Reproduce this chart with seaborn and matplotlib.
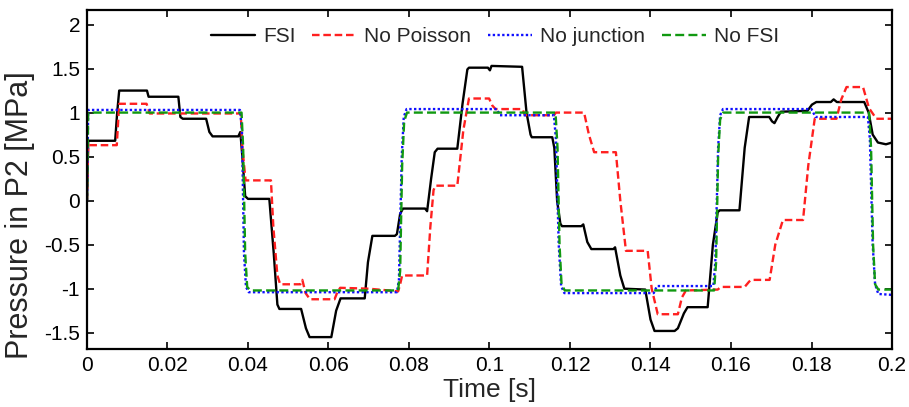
import numpy as np
import pandas as pd
import matplotlib
matplotlib.use("Agg")
import matplotlib.pyplot as plt
import seaborn as sns
from matplotlib.ticker import FuncFormatter

# ---- data (time in ms, pressure in MPa) ----
fsi_t = [0, 0.3, 7.0, 7.5, 8.0, 14.9, 15.3, 22.7, 23.2, 23.8, 29.6, 30.4, 31.2, 37.6, 38.1, 38.6, 39.3, 40.0,
         45.3, 46.4, 47.3, 47.8, 53.2, 54.4, 55.3, 60.7, 61.9, 63.0, 69.0, 69.8, 70.9, 76.5, 77.0, 77.8, 78.5,
         84.0, 84.5, 85.5, 86.4, 87.1, 92.0, 93.3, 94.5, 94.9, 99.6, 100.1, 100.5, 108.1, 109.2, 110.2, 110.5,
         115.6, 116.1, 116.8, 117.6, 118.0, 122.8, 123.3, 124.3, 125.3, 130.8, 131.2, 132.5, 133.5, 138.7, 140.0,
         141.0, 146.0, 146.8, 148.3, 149.2, 154.2, 155.5, 156.7, 157.2, 162.1, 163.4, 164.5, 169.5, 170.2, 170.8,
         171.6, 172.4, 179.0, 180.1, 181.2, 184.8, 185.5, 186.3, 193.1, 194.2, 195.2, 196.5, 198.5, 200]
fsi_p = [0, 0.68, 0.68, 1.0, 1.25, 1.25, 1.18, 1.18, 0.95, 0.93, 0.93, 0.78, 0.73, 0.73, 0.78, 0.5, 0.05, 0.02,
         0.02, -0.6, -1.18, -1.23, -1.23, -1.45, -1.55, -1.55, -1.25, -1.11, -1.11, -0.7, -0.40, -0.40, -0.38, -0.15, -0.09,
         -0.09, -0.12, 0.25, 0.55, 0.59, 0.59, 1.1, 1.49, 1.51, 1.51, 1.48, 1.53, 1.52, 1.0, 0.75, 0.72,
         0.72, 0.6, 0.0, -0.26, -0.29, -0.29, -0.27, -0.47, -0.55, -0.55, -0.53, -0.85, -1.0, -1.01, -1.35,
         -1.48, -1.48, -1.45, -1.28, -1.21, -1.21, -0.5, -0.13, -0.11, -0.11, 0.6, 0.95, 0.95, 0.9, 0.88,
         0.95, 1.01, 1.02, 1.09, 1.12, 1.12, 1.15, 1.12, 1.12, 1.0, 0.75, 0.66, 0.64, 0.66]

nop_t = [0, 0.3, 7.4, 8.0, 14.8, 15.6, 38.2, 38.6, 39.4, 45.7, 46.3, 47.3, 48.0, 53.0, 53.5, 54.3, 55.4, 61.5,
         62.2, 62.9, 70.0, 77.3, 77.8, 78.3, 84.5, 85.3, 86.1, 86.6, 92.0, 93.5, 94.9, 99.9, 100.7, 101.5,
         108.2, 108.8, 116.0, 116.5, 123.5, 124.7, 126.0, 131.4, 132.5, 133.9, 139.3, 140.3, 141.8, 146.8, 147.8,
         148.8, 156.7, 157.5, 163.4, 164.5, 165.0, 169.6, 171.0, 172.9, 177.9, 179.2, 180.8, 186.2, 187.4, 188.7,
         192.8, 194.3, 196.1, 200]
nop_p = [0, 0.63, 0.63, 1.10, 1.10, 0.99, 0.99, 0.6, 0.23, 0.23, -0.3, -0.85, -0.95, -0.95, -0.90, -1.05, -1.12, -1.12,
         -1.04, -0.99, -1.0, -1.03, -0.95, -0.85, -0.85, -0.3, 0.12, 0.17, 0.17, 0.8, 1.16, 1.16, 1.08, 1.04,
         1.04, 0.97, 0.97, 1.0, 1.0, 0.75, 0.55, 0.55, 0.0, -0.57, -0.57, -1.0, -1.29, -1.29, -1.1,
         -1.02, -1.01, -0.98, -0.98, -0.92, -0.90, -0.90, -0.5, -0.22, -0.22, 0.4, 0.93, 0.93, 1.15, 1.29,
         1.29, 1.05, 0.93, 0.93]

noj_t = [0, 0.3, 38.0, 38.5, 39.0, 39.5, 40.2, 77.0, 77.5, 78.2, 78.7, 79.4, 101.8, 102.6, 116.0, 116.5, 117.2,
         117.8, 118.6, 140.8, 141.6, 155.6, 156.1, 156.8, 157.3, 158.0, 180.0, 181.0, 194.0, 194.5, 195.2, 195.8,
         196.6, 200]
noj_p = [0, 1.03, 1.03, 0.8, -0.6, -0.98, -1.04, -1.04, -0.9, 0.5, 0.95, 1.04, 1.04, 0.97, 0.97, 0.7, -0.5,
         -0.97, -1.05, -1.05, -0.97, -0.97, -0.7, 0.6, 0.97, 1.04, 1.04, 0.95, 0.95, 0.7, -0.5, -0.95,
         -1.06, -1.07]

nofsi_t = [0, 0.3, 38.4, 38.8, 39.3, 39.8, 40.6, 77.3, 77.8, 78.3, 78.8, 79.5, 116.4, 116.9, 117.4, 117.9, 118.7,
           155.8, 156.3, 156.8, 157.3, 158.0, 194.3, 194.8, 195.3, 195.8, 196.6, 200]
nofsi_p = [0, 1.0, 1.0, 0.6, -0.6, -0.98, -1.02, -1.02, -0.8, 0.4, 0.9, 1.0, 1.0, 0.6, -0.5, -0.95, -1.02,
           -1.02, -0.7, 0.5, 0.92, 1.0, 1.0, 0.6, -0.5, -0.95, -1.01, -1.01]

labels = ["FSI", "No Poisson", "No junction", "No FSI"]
xticks = [0, 0.02, 0.04, 0.06, 0.08, 0.1, 0.12, 0.14, 0.16, 0.18, 0.2]
yticks = [-1.5, -1, -0.5, 0, 0.5, 1, 1.5, 2]

sns.set_style("ticks")
plt.rcParams['font.family'] = ['Liberation Sans', 'DejaVu Sans']
plt.rcParams['axes.unicode_minus'] = False

fig = plt.figure(figsize=(9.09, 4.07), dpi=100)
ax = fig.add_axes([0.0957, 0.1425, 0.9813 - 0.0957, 0.9754 - 0.1425])

series = [
    (fsi_t, fsi_p, labels[0], "black", None),
    (nop_t, nop_p, labels[1], "#ff2020", (3.2, 1.6)),
    (noj_t, noj_p, labels[2], "#1010ff", (1, 1)),
    (nofsi_t, nofsi_p, labels[3], "#119911", (3.8, 1.8)),
]
for t, p, lab, col, dash in series:
    df = pd.DataFrame({"t": np.array(t) / 1000.0, "p": p})
    sns.lineplot(data=df, x="t", y="p", ax=ax, color=col, lw=1.7,
                 estimator=None, sort=False, label=lab)
    l = ax.get_lines()[-1]
    if dash is not None:
        l.set_dashes(dash)

ax.set_xlim(0, 0.2)
ax.set_ylim(-1.685, 2.165)
ax.set_xticks(xticks)
ax.set_yticks(yticks)
ax.xaxis.set_major_formatter(FuncFormatter(lambda v, pos: "%g" % round(v, 4)))
ax.yaxis.set_major_formatter(FuncFormatter(lambda v, pos: "%g" % v))
ax.tick_params(direction="in", length=5, width=1.2, labelsize=15, top=True, right=True,
               colors="black", pad=5)
for s in ax.spines.values():
    s.set_visible(True)
    s.set_linewidth(1.6)
    s.set_color("black")
ax.set_xlabel("Time [s]", fontsize=19, labelpad=2)
ax.set_ylabel("Pressure in P2 [MPa]", fontsize=22)
ax.yaxis.set_label_coords(-0.064, 0.395)

leg = ax.legend(loc="upper center", ncol=4, frameon=False, fontsize=15,
                handlelength=2.1, columnspacing=0.8, handletextpad=0.4,
                bbox_to_anchor=(0.507, 0.995), borderaxespad=0.35)

fig.savefig("out.png", dpi=100)
